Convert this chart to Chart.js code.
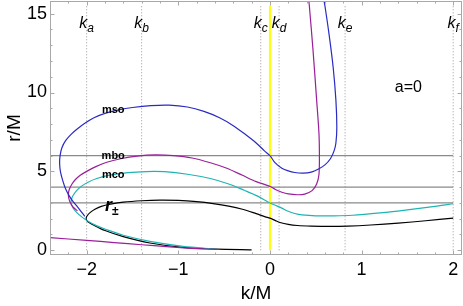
<!DOCTYPE html>
<html><head><meta charset="utf-8">
<script src="https://cdn.jsdelivr.net/npm/chart.js@4.4.0/dist/chart.umd.min.js"></script>
<style>html,body{margin:0;padding:0;background:#fff;}#wrap{width:463px;height:306px;}</style>
</head><body><div id="wrap"><canvas id="c" width="463" height="306"></canvas></div>
<script>
// ---- data ----
const xTicks = [-2, -1, 0, 1, 2];
const yTicks = [0, 5, 10, 15];

// mso (blue)
const msoK = [-2.02,-2.06,-2.1,-2.15,-2.19,-2.23,-2.26,-2.285,-2.295,-2.29,-2.27,-2.23,-2.17,-2.1,-2.02,-1.92,-1.8,-1.65,-1.5,-1.3,-1.1,-0.9,-0.72,-0.55,-0.4,-0.27,-0.15,-0.06,0,0.055,0.13,0.2,0.27,0.36,0.45,0.53,0.6,0.66,0.7,0.72,0.73,0.72,0.69,0.645,0.6,0.59];
const msoR = [2.15,2.45,2.75,3.1,3.45,3.9,4.4,4.95,5.5,6.0,6.5,6.95,7.35,7.7,8.05,8.4,8.68,8.9,9.05,9.17,9.2,9.08,8.8,8.4,7.9,7.35,6.8,6.3,6.0,5.55,5.2,5.03,4.93,4.89,4.95,5.15,5.41,5.8,6.3,6.8,7.8,9.5,11.6,13.7,15.5,15.8];
// mbo (purple)
const mboK = [-2.1,-2.15,-2.185,-2.2,-2.19,-2.16,-2.12,-2.07,-2.0,-1.9,-1.78,-1.63,-1.45,-1.25,-1.05,-0.85,-0.65,-0.47,-0.3,-0.15,0,0.06,0.13,0.2,0.3,0.38,0.46,0.51,0.535,0.54,0.535,0.51,0.47,0.43,0.425];
const mboR = [2.5,2.75,3.1,3.5,3.85,4.2,4.5,4.75,5.0,5.3,5.58,5.8,5.97,6.05,6.0,5.85,5.55,5.2,4.75,4.35,4.05,3.85,3.68,3.57,3.52,3.56,3.78,4.2,4.8,5.94,7.42,9.5,12.7,15.5,15.8];
const mboLowK = [-2.4,-2.0,-1.7,-1.4,-1.13,-0.9,-0.7,-0.55];
const mboLowR = [0.8,0.63,0.49,0.35,0.23,0.14,0.08,0.05];
// mco (cyan)
const mcoK = [-0.6,-0.95,-1.31,-1.6,-1.78,-1.9,-1.98,-2.05,-2.11,-2.15,-2.17,-2.165,-2.145,-2.11,-2.06,-1.99,-1.89,-1.75,-1.55,-1.35,-1.15,-0.9,-0.65,-0.45,-0.28,-0.14,0,0.06,0.13,0.2,0.27,0.35,0.5,0.7,0.9,1.2,1.5,1.8,2.0];
const mcoR = [0.08,0.25,0.56,0.95,1.3,1.58,1.82,2.1,2.4,2.7,3.0,3.25,3.5,3.78,4.05,4.3,4.55,4.76,4.92,4.99,4.98,4.82,4.55,4.2,3.8,3.45,3.0,2.85,2.67,2.47,2.33,2.24,2.18,2.18,2.22,2.37,2.56,2.78,2.95];
// r± (black)
const rpmK = [-0.2,-0.58,-0.95,-1.31,-1.6,-1.8,-1.91,-1.97,-2.0,-2.005,-1.99,-1.96,-1.91,-1.84,-1.74,-1.6,-1.4,-1.2,-1.0,-0.8,-0.62,-0.45,-0.3,-0.15,-0.05,0,0.06,0.11,0.2,0.3,0.45,0.65,0.85,1.1,1.4,1.7,2.0];
const rpmR = [0.03,0.07,0.18,0.46,0.86,1.25,1.55,1.75,1.9,2.05,2.22,2.4,2.6,2.78,2.92,3.05,3.14,3.18,3.16,3.08,2.96,2.8,2.6,2.32,2.12,2.04,1.88,1.76,1.64,1.57,1.53,1.51,1.53,1.6,1.72,1.87,2.04];

// reference lines
const hLines = [6, 4, 3];
const hLineSpan = [-2.4, 2.0];
const vLines = [-2, -1.4, -0.1, 0.1, 0.82, 2.0];
const vLabels = ['a', 'b', 'c', 'd', 'e', 'f'];
const vLineSpan = [0, 15.5];
const yellowK = 0;

// ---- chart ----
const fam = '"Liberation Sans", Arial, sans-serif';
const pts = (K, R) => K.map((k, i) => ({x: k, y: R[i]}));
const fmt = v => (v < 0 ? '\u2212' : '') + Math.abs(v);

const datasets = [];
const curve = (K, R, color) => ({data: pts(K, R), showLine: true, borderColor: color, borderWidth: 1.2, pointRadius: 0, tension: 0.3, fill: false, order: 0});
datasets.push(curve(msoK, msoR, '#2a2ac4'));
datasets.push(curve(mboK, mboR, '#9a1f9a'));
datasets.push(curve(mboLowK, mboLowR, '#9a1f9a'));
datasets.push(curve(mcoK, mcoR, '#1fb4b4'));
datasets.push(curve(rpmK, rpmR, '#000000'));
hLines.forEach(h => datasets.push({data: hLineSpan.map(k => ({x: k, y: h})), showLine: true, borderColor: '#8a8a8a', borderWidth: 1.3, pointRadius: 0, order: 3}));
vLines.forEach(v => datasets.push({data: vLineSpan.map(r => ({x: v, y: r})), showLine: true, borderColor: '#9a9a9a', borderWidth: 1, borderDash: [1, 2], pointRadius: 0, order: 3}));
datasets.push({data: vLineSpan.map(r => ({x: yellowK, y: r})), showLine: true, borderColor: '#ffff00', borderWidth: 2, pointRadius: 0, order: 2});

const deco = {
  id: 'deco',
  afterDatasetsDraw(chart) {
    const {ctx, chartArea: a, scales: {x, y}} = chart;
    ctx.save();
    ctx.strokeStyle = '#a8a8a8';
    ctx.lineWidth = 1;
    ctx.strokeRect(a.left + 0.5, a.top + 0.5, a.right - a.left - 1, a.bottom - a.top - 1);
    ctx.beginPath();
    for (let i = -12; i <= 10; i++) {
      const v = i * 0.2;
      const major = Math.abs(v - Math.round(v)) < 1e-6;
      const L = major ? 4.5 : 2.5;
      const px = Math.round(x.getPixelForValue(v)) + 0.5;
      ctx.moveTo(px, a.bottom); ctx.lineTo(px, a.bottom - L);
      ctx.moveTo(px, a.top); ctx.lineTo(px, a.top + L);
    }
    for (let v = 0; v <= 15; v++) {
      const major = v % 5 === 0;
      const L = major ? 4.5 : 2.5;
      const py = Math.round(y.getPixelForValue(v)) + 0.5;
      ctx.moveTo(a.left, py); ctx.lineTo(a.left + L, py);
      ctx.moveTo(a.right, py); ctx.lineTo(a.right - L, py);
    }
    ctx.stroke();
    ctx.restore();
  },
  afterDraw(chart) {
    const {ctx, scales: {x, y}} = chart;
    ctx.save();
    ctx.fillStyle = '#000';
    ctx.textBaseline = 'alphabetic';
    // k labels
    vLines.forEach((v, i) => {
      ctx.font = 'italic 16px ' + fam;
      const wk = ctx.measureText('k').width;
      ctx.font = 'italic 12px ' + fam;
      const ws = ctx.measureText(vLabels[i]).width;
      const x0 = x.getPixelForValue(v) - (wk + ws) / 2;
      const yb = y.getPixelForValue(14.1);
      ctx.font = 'italic 16px ' + fam;
      ctx.fillText('k', x0, yb);
      ctx.font = 'italic 12px ' + fam;
      ctx.fillText(vLabels[i], x0 + wk, yb + 4);
    });
    // curve names
    ctx.font = 'bold 11px ' + fam;
    ctx.textAlign = 'center';
    ctx.fillText('mso', x.getPixelForValue(-1.71), y.getPixelForValue(8.73));
    ctx.fillText('mbo', x.getPixelForValue(-1.71), y.getPixelForValue(5.79));
    ctx.fillText('mco', x.getPixelForValue(-1.71), y.getPixelForValue(4.59));
    // r±
    ctx.textAlign = 'left';
    ctx.font = 'bold italic 18px ' + fam;
    const rx = x.getPixelForValue(-1.8), ry = y.getPixelForValue(2.5);
    ctx.fillText('r', rx, ry);
    const wr = ctx.measureText('r').width;
    ctx.font = 'bold 12px ' + fam;
    ctx.fillText('\u00b1', rx + wr, ry + 4);
    // a=0
    ctx.textAlign = 'center';
    ctx.font = '16px ' + fam;
    ctx.fillText('a=0', x.getPixelForValue(1.51), y.getPixelForValue(10.05));
    ctx.restore();
  }
};

new Chart(document.getElementById('c'), {
  type: 'scatter',
  data: {datasets},
  options: {
    responsive: false,
    animation: false,
    devicePixelRatio: 1,
    layout: {padding: {top: 1, right: 1, left: 0, bottom: 0}},
    plugins: {legend: {display: false}, tooltip: {enabled: false}},
    scales: {
      x: {
        type: 'linear', min: -2.4, max: 2.096,
        afterBuildTicks: s => { s.ticks = xTicks.map(v => ({value: v})); },
        ticks: {font: {size: 18, family: fam}, color: '#000', padding: 4, maxRotation: 0, autoSkip: false, callback: fmt},
        grid: {display: false, drawTicks: false},
        border: {display: false},
        title: {display: true, text: 'k/M', font: {size: 19, family: fam}, color: '#000', padding: {top: 0, bottom: 1}},
        afterFit: s => { s.height = 51; s.paddingLeft = 0; s.paddingRight = 0; }
      },
      y: {
        type: 'linear', min: -0.3, max: 15.8,
        afterBuildTicks: s => { s.ticks = yTicks.map(v => ({value: v})); },
        ticks: {font: {size: 18, family: fam}, color: '#000', padding: 3, autoSkip: false, callback: fmt},
        grid: {display: false, drawTicks: false},
        border: {display: false},
        title: {display: true, text: 'r/M', font: {size: 19, family: fam}, color: '#000', padding: {top: 3, bottom: 0}},
        afterFit: s => { s.width = 50; s.paddingTop = 0; s.paddingBottom = 0; }
      }
    }
  },
  plugins: [deco]
});
</script>
</body></html>
